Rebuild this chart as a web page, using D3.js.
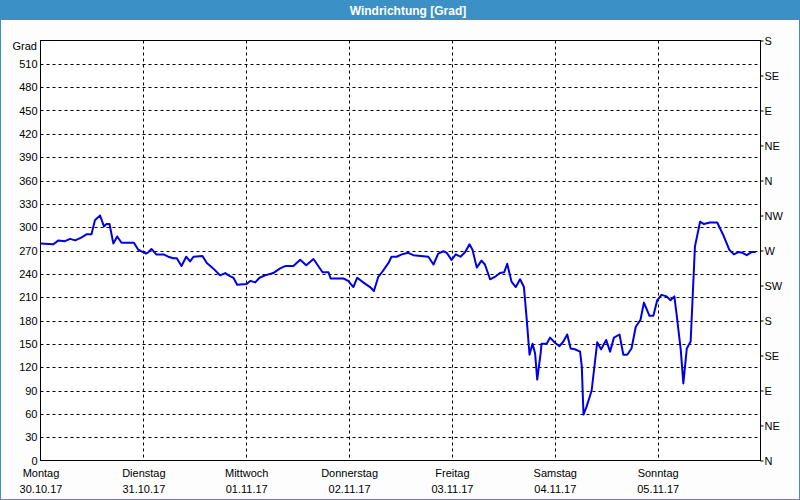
<!DOCTYPE html>
<html><head><meta charset="utf-8">
<script src="https://cdn.jsdelivr.net/npm/d3@7"></script>
<style>
html,body{margin:0;padding:0;background:#fff;}
svg{display:block;font-family:"Liberation Sans","DejaVu Sans",sans-serif;}
</style></head>
<body><svg id="c" width="800" height="500"></svg>
<script>
const title = "Windrichtung [Grad]";
const yAxisTitle = "Grad";
const dayNames = ["Montag","Dienstag","Mittwoch","Donnerstag","Freitag","Samstag","Sonntag"];
const dayDates = ["30.10.17","31.10.17","01.11.17","02.11.17","03.11.17","04.11.17","05.11.17"];
const leftTicks = [0,30,60,90,120,150,180,210,240,270,300,330,360,390,420,450,480,510];
const compassTicks = [0,45,90,135,180,225,270,315,360,405,450,495,540];
const compassLabels = ["N","NE","E","SE","S","SW","W","NW","N","NE","E","SE","S"];
// hours since Monday 30.10.17 00:00
const hours = [0,3.0,4.2,5.7,6.9,8.1,9.6,10.8,11.9,12.7,13.9,14.8,15.4,16.1,17.0,17.9,18.9,20.9,21.8,22.8,
24.6,25.2,25.9,27.0,28.7,29.8,31.0,31.8,32.9,34.0,34.9,35.7,37.8,38.8,40.3,41.9,43.1,44.2,45.0,45.9,
48.1,49.0,50.1,51.1,52.4,54.3,55.9,57.1,59.0,60.6,62.0,63.7,65.8,67.2,67.7,70.7,71.8,73.0,73.9,75.3,
76.9,77.8,78.8,79.8,81.2,81.9,83.1,84.3,85.8,87.0,90.5,91.7,92.8,94.0,94.8,95.9,96.9,98.0,99.1,100.1,
100.8,101.8,102.9,103.7,104.9,106.0,107.2,108.2,108.9,109.9,110.9,111.9,112.8,113.4,114.1,114.8,115.4,115.9,116.7,116.9,
118.1,118.9,120.1,121.1,122.0,122.9,123.7,124.7,125.9,126.3,126.7,127.4,128.6,129.9,130.8,132.0,132.9,133.8,135.1,136.0,
136.9,137.9,138.9,140.0,140.8,142.1,143.0,143.9,144.9,146.1,147.0,147.9,148.4,149.4,150.0,150.8,151.7,152.7,153.9,154.8,
156.2,157.9,159.3,160.7,161.8,162.8,163.8,164.8,165.9,166.9];
const degrees = [279,278,283,282,285,283,287,291,291,309,315,301,304,304,279,288,280,280,280,271,
266,268,272,265,265,262,260,260,250,262,256,262,263,254,247,238,241,237,235,226,
227,231,229,235,238,241,247,250,250,258,251,259,242,242,234,234,231,223,235,229,
223,218,236,243,254,262,262,265,267,264,262,252,266,269,267,258,265,262,268,278,
271,248,257,252,233,236,241,242,253,230,223,233,223,185,136,150,138,104,138,150,
150,158,151,147,153,162,144,143,140,121,59,69,90,152,143,155,140,158,162,136,
136,144,172,181,203,186,186,206,213,211,206,211,189,142,99,144,153,275,307,304,
306,306,290,271,265,268,267,264,268,268];

const svg = d3.select("#c");
const W = 800, H = 500;
const m = {left:40.5, right:760.5, top:40.5, bottom:460.5};

svg.append("rect").attr("x",0).attr("y",0).attr("width",W).attr("height",H).attr("fill","#3b90c5");
svg.append("rect").attr("x",1).attr("y",20).attr("width",W-2).attr("height",H-21).attr("fill","#fcfdfc");
svg.append("text").attr("x",W/2+8).attr("y",15).attr("text-anchor","middle")
  .attr("fill","#fff").attr("font-weight","bold").attr("font-size",12).text(title);

const x = d3.scaleLinear().domain([0,168]).range([m.left,m.right]);
const y = d3.scaleLinear().domain([0,540]).range([m.bottom,m.top]);

svg.append("rect").attr("x",m.left).attr("y",m.top).attr("width",m.right-m.left).attr("height",m.bottom-m.top).attr("fill","#fff");

// horizontal grid
svg.append("g").selectAll("line").data(leftTicks.filter(d=>d>0)).join("line")
  .attr("x1",m.left).attr("x2",m.right).attr("y1",d=>Math.round(y(d))+0.5).attr("y2",d=>Math.round(y(d))+0.5)
  .attr("stroke","#000").attr("stroke-dasharray","3,3");
// vertical grid
const dayTicks = dayNames.map((d,i)=>i*24);
svg.append("g").selectAll("line").data(dayTicks.filter(d=>d>0)).join("line")
  .attr("y1",m.top).attr("y2",m.bottom).attr("x1",d=>Math.round(x(d))+0.5).attr("x2",d=>Math.round(x(d))+0.5)
  .attr("stroke","#000").attr("stroke-dasharray","3,3");

// frame
svg.append("rect").attr("x",m.left).attr("y",m.top).attr("width",m.right-m.left).attr("height",m.bottom-m.top)
  .attr("fill","none").attr("stroke","#000").attr("stroke-width",1);

// left axis
const ly = svg.append("g").attr("transform",`translate(${m.left},0)`)
  .call(d3.axisLeft(y).tickValues(leftTicks).tickSize(0).tickPadding(3));
ly.select(".domain").remove();
ly.selectAll("text").attr("font-size",11).attr("fill","#000").attr("font-family","Liberation Sans, DejaVu Sans, sans-serif");
svg.append("text").attr("x",37).attr("y",50).attr("text-anchor","end").attr("font-size",11).text(yAxisTitle);

// right axis
const ry = svg.append("g").attr("transform",`translate(${m.right},0)`)
  .call(d3.axisRight(y).tickValues(compassTicks).tickSize(3).tickPadding(1).tickFormat((d,i)=>compassLabels[i]));
ry.select(".domain").remove();
ry.selectAll("text").attr("font-size",11).attr("fill","#000").attr("font-family","Liberation Sans, DejaVu Sans, sans-serif");

// bottom axis labels
const bx = svg.append("g").attr("transform",`translate(0,${m.bottom})`)
  .call(d3.axisBottom(x).tickValues(dayTicks).tickSize(0).tickPadding(9).tickFormat((d,i)=>dayNames[i]));
bx.select(".domain").remove();
bx.selectAll("text").attr("font-size",11).attr("fill","#000").attr("font-family","Liberation Sans, DejaVu Sans, sans-serif");
const bx2 = svg.append("g").attr("transform",`translate(0,${m.bottom+16})`)
  .call(d3.axisBottom(x).tickValues(dayTicks).tickSize(0).tickPadding(9).tickFormat((d,i)=>dayDates[i]));
bx2.select(".domain").remove();
bx2.selectAll("text").attr("font-size",11).attr("fill","#000").attr("font-family","Liberation Sans, DejaVu Sans, sans-serif");

// line
const data = hours.map((h,i)=>({h, v:degrees[i]}));
svg.append("path").datum(data)
  .attr("d", d3.line().x(d=>x(d.h)).y(d=>y(d.v)))
  .attr("fill","none").attr("stroke","#0000e6").attr("stroke-width",2).attr("stroke-linejoin","round");
</script></body></html>
